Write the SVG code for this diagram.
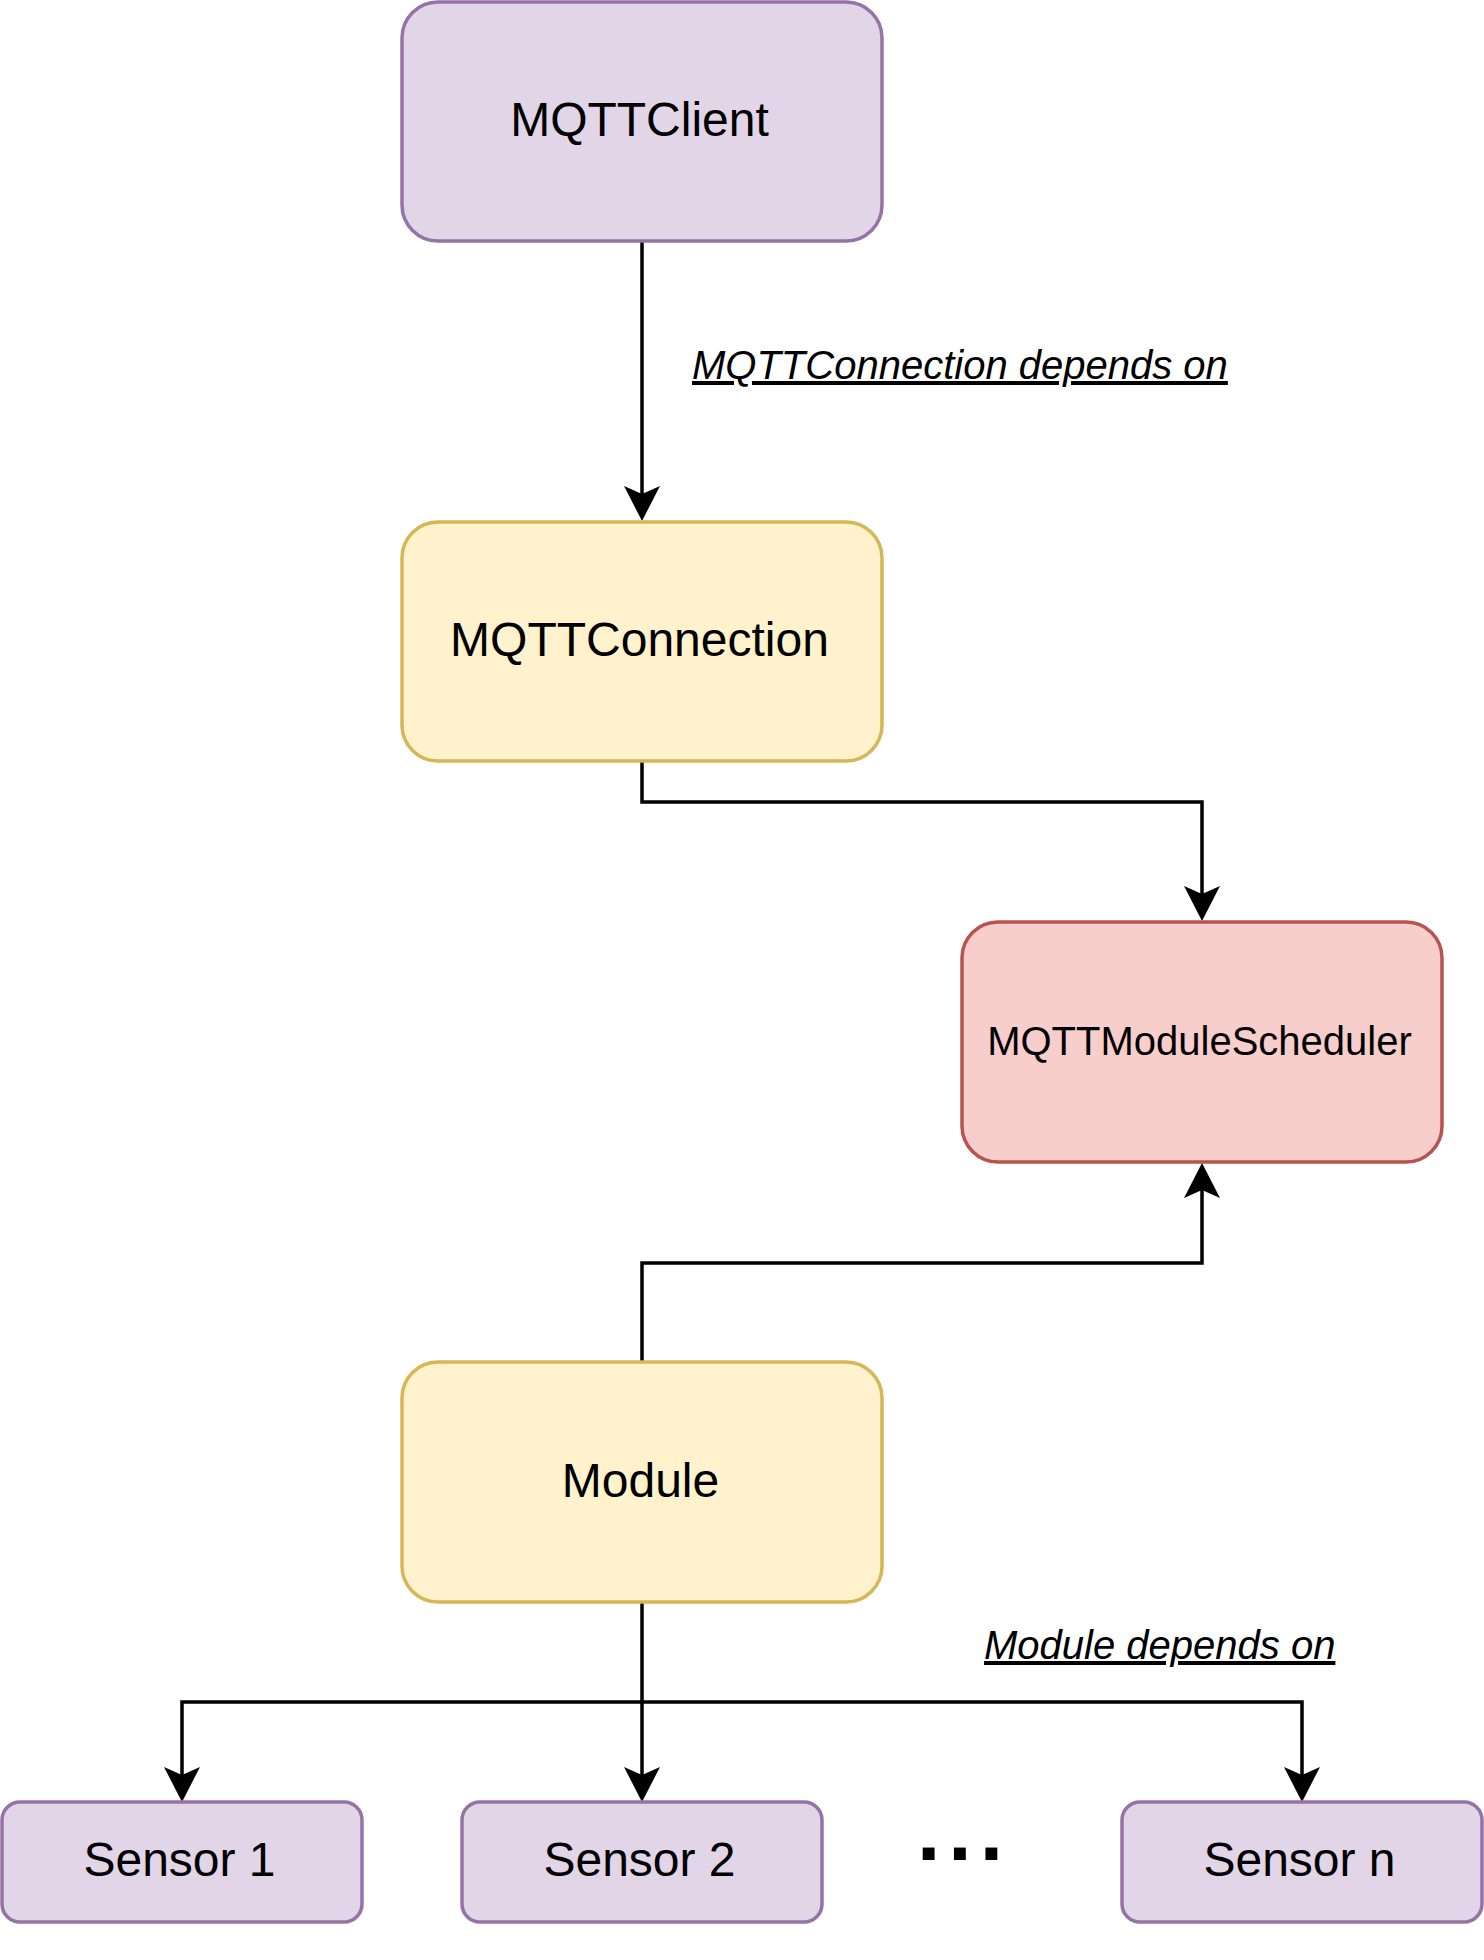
<svg xmlns="http://www.w3.org/2000/svg" width="1484" height="1960" viewBox="0 0 1484 1960">
  <style>
    .purple { fill: #e1d5e7; stroke: #9673a6; stroke-width: 3.5; }
    .yellow { fill: #fff2cc; stroke: #d6b656; stroke-width: 3.5; }
    .red { fill: #f8cecc; stroke: #b85450; stroke-width: 3.5; }
    .lbl { font-family: "Liberation Sans", Arial, sans-serif; fill: #000; text-anchor: middle; }
    .big { font-size: 48px; }
    .mid { font-size: 40px; }
    .edge { fill: none; stroke: #000; stroke-width: 3.5; }
    .elabel { font-family: "Liberation Sans", Arial, sans-serif; font-size: 40px; font-style: italic; text-decoration: underline; fill: #000; }
  </style>
  <defs>
    <marker id="arrow" markerUnits="userSpaceOnUse" viewBox="-10 -20 40 40" refX="0" refY="0" markerWidth="40" markerHeight="40" orient="auto">
      <path d="M27,0 L-8,-18 L0,0 L-8,18 Z" fill="#000" stroke="none"/>
    </marker>
  </defs>
  <rect width="1484" height="1960" fill="#ffffff"/>

  <g id="connectors">
    <path class="edge" d="M642,241 V494" marker-end="url(#arrow)"/>
    <path class="edge" d="M642,762 V802 H1202 V894" marker-end="url(#arrow)"/>
    <path class="edge" d="M642,1361 V1263 H1202 V1190" marker-end="url(#arrow)"/>
    <path class="edge" d="M642,1602 V1775" marker-end="url(#arrow)"/>
    <path class="edge" d="M642,1702 H182 V1775" marker-end="url(#arrow)"/>
    <path class="edge" d="M642,1702 H1302 V1775" marker-end="url(#arrow)"/>
    <text class="elabel" x="692" y="379">MQTTConnection depends on</text>
    <text class="elabel" x="984" y="1659">Module depends on</text>
  </g>

  <g id="mqttclient">
    <rect class="purple" x="402" y="2" width="480" height="239" rx="36" ry="36"/>
    <text class="lbl big" x="639.5" y="136">MQTTClient</text>
  </g>

  <g id="mqttconnection">
    <rect class="yellow" x="402" y="522" width="480" height="239" rx="36" ry="36"/>
    <text class="lbl big" x="639.5" y="656">MQTTConnection</text>
  </g>

  <g id="mqttmodulescheduler">
    <rect class="red" x="962" y="922" width="480" height="240" rx="36" ry="36"/>
    <text class="lbl mid" x="1199.5" y="1055">MQTTModuleScheduler</text>
  </g>

  <g id="module">
    <rect class="yellow" x="402" y="1362" width="480" height="240" rx="36" ry="36"/>
    <text class="lbl big" x="640.5" y="1497">Module</text>
  </g>

  <g id="sensor1">
    <rect class="purple" x="2" y="1802" width="360" height="120" rx="18" ry="18"/>
    <text class="lbl big" x="179.5" y="1876">Sensor 1</text>
  </g>

  <g id="sensor2">
    <rect class="purple" x="462" y="1802" width="360" height="120" rx="18" ry="18"/>
    <text class="lbl big" x="639.5" y="1876">Sensor 2</text>
  </g>

  <g id="ellipsis">
    <text x="917" y="1860" font-family="Liberation Sans, Arial, sans-serif" font-size="84" font-weight="bold" letter-spacing="8" fill="#000">...</text>
  </g>

  <g id="sensorn">
    <rect class="purple" x="1122" y="1802" width="360" height="120" rx="18" ry="18"/>
    <text class="lbl big" x="1299.5" y="1876">Sensor n</text>
  </g>
</svg>
